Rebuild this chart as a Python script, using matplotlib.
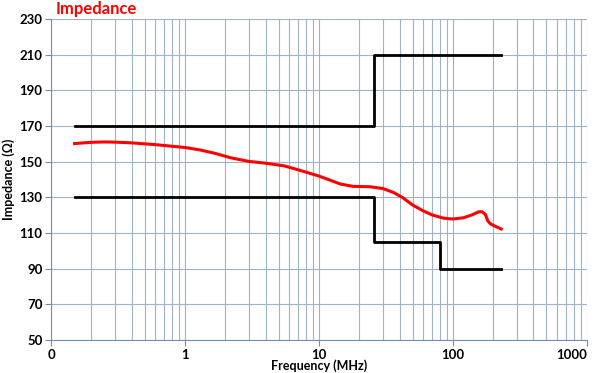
import matplotlib.pyplot as plt
import numpy as np
from matplotlib.ticker import FixedLocator, LogLocator, NullFormatter

# limit lines (MHz, ohm)
upper_f = [0.15, 26, 26, 230]
upper_z = [170, 170, 210, 210]
lower_f = [0.15, 26, 26, 80, 80, 230]
lower_z = [130, 130, 105, 105, 90, 90]

# measured impedance
meas_f = [0.15, 0.2, 0.25, 0.3, 0.4, 0.6, 1.0, 1.3, 1.7, 2.2, 3.0, 4.0, 5.5, 7.0,
          10, 12, 14.5, 18, 24, 30, 36, 42, 50, 60, 70, 85, 100, 120, 140, 155,
          165, 175, 182, 190, 205, 230]
meas_z = [160.2, 160.9, 161.1, 161.0, 160.6, 159.6, 158.0, 156.6, 154.6, 152.2, 150.2,
          149.2, 147.7, 145.5, 142.0, 139.8, 137.5, 136.2, 136.0, 135.0, 132.8, 130.0,
          125.8, 122.5, 120.2, 118.4, 117.9, 118.6, 120.3, 121.9, 122.0, 120.5, 117.0,
          115.3, 114.0, 112.3]

plt.rcParams["font.family"] = ["Lato", "DejaVu Sans"]
grid_c = "#9fb2cc"
spine_c = "#6f8fb8"

fig = plt.figure(figsize=(6, 3.73), dpi=100)
ax = fig.add_axes([0.085, 0.088, 0.893, 0.861])

ax.plot(upper_f, upper_z, color="black", lw=2)
ax.plot(lower_f, lower_z, color="black", lw=2)
ax.plot(meas_f, meas_z, color="#ff0000", lw=2.2)

ax.set_xscale("log")
ax.set_xlim(0.1, 1000)
ax.set_ylim(50, 230)
ax.xaxis.set_major_locator(FixedLocator([0.1, 1, 10, 100, 1000]))
ax.set_xticklabels(["0", "1", "10", "100", "1000"])
ax.xaxis.set_minor_locator(LogLocator(base=10, subs=np.arange(2, 10)))
ax.xaxis.set_minor_formatter(NullFormatter())
ax.set_yticks(np.arange(50, 231, 20))

ax.grid(True, which="major", axis="both", color=grid_c, lw=0.8)
ax.grid(True, which="minor", axis="x", color=grid_c, lw=0.8)
ax.set_axisbelow(True)

for s in ["top", "right"]:
    ax.spines[s].set_visible(False)
for s in ["left", "bottom"]:
    ax.spines[s].set_color(spine_c)
ax.tick_params(axis="both", which="major", length=4, color=spine_c, labelsize=9.5, pad=2)
ax.tick_params(axis="x", which="minor", length=0)
for lbl in ax.get_xticklabels() + ax.get_yticklabels():
    lbl.set_fontweight("bold")
ax.get_xticklabels()[-1].set_horizontalalignment("right")

ax.set_xlabel("Frequency (MHz)", fontsize=9, fontweight="bold", va="center")
ax.xaxis.set_label_coords(0.5, -0.08)
ax.set_ylabel("Impedance (Ω)", fontsize=9, fontweight="bold")
ax.yaxis.set_label_coords(-0.068, 0.5)
fig.text(0.092, 0.975, "Impedance", color="#ff0000", fontsize=12,
         fontweight="bold", va="center", ha="left")

fig.savefig("out.png", dpi=100)
